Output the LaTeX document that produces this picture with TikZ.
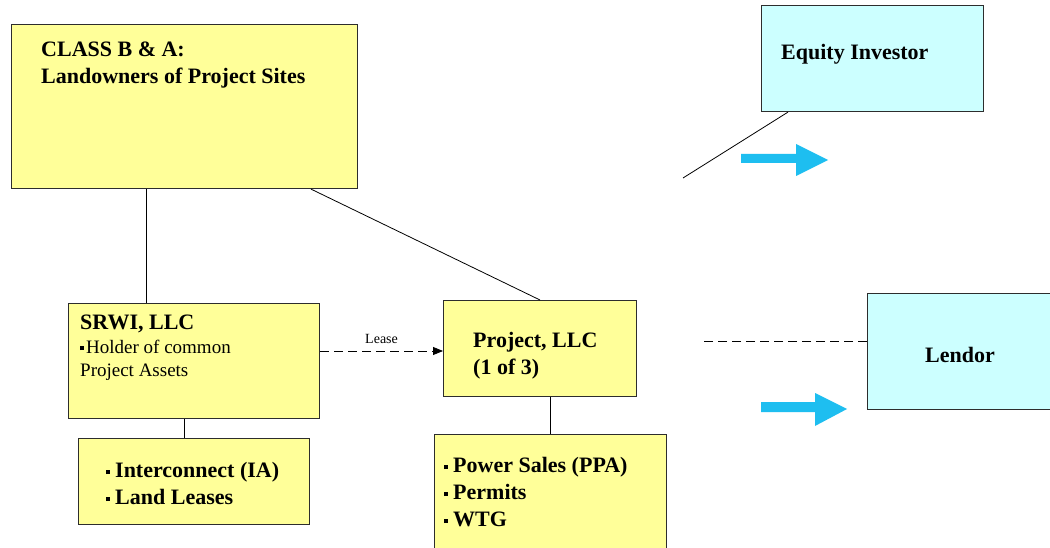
\documentclass[tikz,border=0pt]{standalone}
\usepackage{fontspec}
\setmainfont{Liberation Serif}
\usetikzlibrary{arrows.meta}

\definecolor{boxyellow}{RGB}{255,255,153}
\definecolor{boxcyan}{RGB}{204,255,255}
\definecolor{flowblue}{RGB}{30,190,240}
\definecolor{edgegray}{RGB}{45,45,45}

% small square bullet used in the item lists
\newcommand{\sqbul}{\raisebox{3pt}{\rule{4pt}{4pt}}\hspace{5pt}}
% left-aligned block whose baseline is that of its first line
\newcommand{\lines}[1]{\begin{tabular}[t]{@{}l@{}}#1\end{tabular}}

\begin{document}
\begin{tikzpicture}[x=1pt,y=-1pt,
  ybox/.style={draw=edgegray, line width=1.1pt, fill=boxyellow, inner sep=0pt, anchor=north west},
  cbox/.style={draw=edgegray, line width=1.1pt, fill=boxcyan, inner sep=0pt, anchor=north west},
  label/.style={inner sep=0pt, anchor=base west},
  head/.style={font=\bfseries\fontsize{22}{27}\selectfont},
  plain/.style={font=\fontsize{19}{23}\selectfont},
  link/.style={draw=black, line width=0.8pt},
  dashlink/.style={link, dash pattern=on 9pt off 5pt},
  flow/.style={fill=flowblue}]

\clip (0,0) rectangle (1050,548);
\fill[white] (0,0) rectangle (1050,548);

% ---- boxes ----
\node[ybox, minimum width=346pt, minimum height=164pt] (class) at (11,24) {};
\node[cbox, minimum width=222pt, minimum height=106pt] (equity) at (761,5) {};
\node[ybox, minimum width=251pt, minimum height=115pt] (srwi) at (68,303) {};
\node[ybox, minimum width=231pt, minimum height=86pt] (ia) at (78,438) {};
\node[ybox, minimum width=193pt, minimum height=96pt] (project) at (443,300) {};
\node[ybox, minimum width=232pt, minimum height=130pt] (ppa) at (434,434) {};
\node[cbox, minimum width=200pt, minimum height=116pt] (lendor) at (867,293) {};

% ---- texts ----
\node[label, head] (classtxt) at (41,57) {\lines{CLASS B \& A:\\Landowners of Project Sites}};
\node[label, head] (equitytxt) at (781,60) {Equity Investor};
\node[label, head] (srwitxt) at (80,329) {SRWI, LLC};
\node[label, plain] (srwisub) at (80,353)
  {\lines{\raisebox{3pt}{\rule{4pt}{4pt}}\hspace{2pt}Holder of common\\Project Assets}};
\node[label, head] (projtxt) at (473,347) {\lines{Project, LLC\\(1 of 3)}};
\node[label, head] (iatxt) at (106,477) {\lines{\sqbul Interconnect (IA)\\\sqbul Land Leases}};
\node[label, head] (ppatxt) at (444,472) {\lines{\sqbul Power Sales (PPA)\\\sqbul Permits\\\sqbul WTG}};
\node[label, head] (lendortxt) at (925,362) {Lendor};

% ---- connectors ----
\draw[link] ([xshift=78pt]srwi.north west) -- ([xshift=78pt]srwi.north west |- class.south);
\draw[link] ([xshift=300pt]class.south west) -- ([xshift=97pt]project.north west);
\draw[link] ([xshift=116pt]srwi.south west) -- ([xshift=116pt]srwi.south west |- ia.north);
\draw[link] ([xshift=116pt]ppa.north west) -- ([xshift=116pt]ppa.north west |- project.south);
\draw[dashlink, -{Triangle[length=10pt,width=8pt]}]
  ([yshift=-48pt]srwi.north east) -- ([yshift=-51pt]project.north west)
  node[midway, above=7pt, font=\fontsize{14}{16}\selectfont, inner sep=0pt] (lease) {Lease};

\coordinate (eqend) at (683,178);
\draw[link] ([xshift=27pt]equity.south west) -- (eqend);
\coordinate (lendend) at (703,341);
\draw[dashlink] ([yshift=-48pt]lendor.north west) -- (lendend);

% ---- flow arrows ----
\fill[flow] (741,154) -- (796,154) -- (796,144) -- (828,160) -- (796,176) -- (796,163) -- (741,163) -- cycle;
\fill[flow] (761,402) -- (815,402) -- (815,393) -- (847,409) -- (815,426) -- (815,412) -- (761,412) -- cycle;

\end{tikzpicture}
\end{document}
